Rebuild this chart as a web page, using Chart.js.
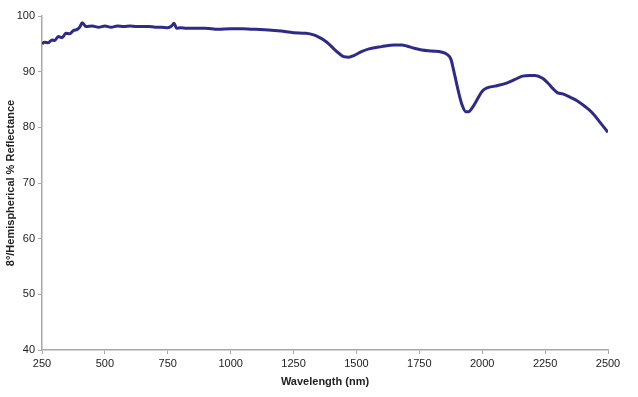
<!DOCTYPE html>
<html>
<head>
<meta charset="utf-8">
<script src="https://cdn.jsdelivr.net/npm/chart.js@4"></script>
<style>
  html, body { margin: 0; padding: 0; background: #fff; }
  #wrap { width: 638px; height: 397px; }
</style>
</head>
<body>
<div id="wrap"><canvas id="spectrum"></canvas></div>
<script>
// wavelength (nm) and measured reflectance (%)
const wavelengths = [250, 260, 275, 290, 300, 315, 330, 345, 360, 375, 390, 400, 410, 425, 450, 475, 500, 525, 550, 575, 600, 625, 650, 675, 700, 725, 750, 765, 775, 785, 800, 825, 850, 900, 950, 1000, 1050, 1100, 1150, 1200, 1250, 1300, 1330, 1350, 1370, 1390, 1410, 1430, 1450, 1470, 1490, 1520, 1550, 1600, 1650, 1680, 1700, 1730, 1760, 1800, 1840, 1860, 1875, 1890, 1905, 1920, 1935, 1945, 1960, 1980, 2000, 2020, 2050, 2100, 2130, 2160, 2190, 2210, 2240, 2260, 2280, 2300, 2320, 2350, 2380, 2410, 2440, 2470, 2500];
const reflectance = [95.0, 95.3, 95.2, 95.7, 95.6, 96.3, 96.1, 96.9, 96.8, 97.4, 97.6, 98.0, 98.8, 98.1, 98.2, 98.0, 98.2, 98.0, 98.2, 98.1, 98.2, 98.1, 98.1, 98.1, 98.0, 98.0, 97.9, 98.2, 98.7, 97.8, 97.9, 97.8, 97.8, 97.8, 97.6, 97.7, 97.7, 97.6, 97.5, 97.3, 97.0, 96.9, 96.6, 96.2, 95.7, 95.0, 94.1, 93.3, 92.7, 92.6, 92.9, 93.6, 94.1, 94.5, 94.8, 94.8, 94.6, 94.2, 93.9, 93.7, 93.5, 93.1, 92.3, 89.5, 86.5, 84.0, 82.8, 82.8, 83.5, 85.0, 86.5, 87.1, 87.4, 88.0, 88.6, 89.2, 89.3, 89.3, 88.8, 88.0, 87.0, 86.2, 86.0, 85.4, 84.7, 83.7, 82.5, 80.8, 79.1];

const points = wavelengths.map((w, i) => ({ x: w, y: reflectance[i] }));

const axisGrey = '#a8a8a8';
const textCol = '#222';
const fontFam = '"Liberation Sans", Arial, sans-serif';

const ctx = document.getElementById('spectrum').getContext('2d');
new Chart(ctx, {
    type: 'line',
    data: {
        datasets: [{
            data: points,
            borderColor: '#2e2b88',
            borderWidth: 3,
            pointRadius: 0,
            cubicInterpolationMode: 'monotone',
            fill: false
        }]
    },
    options: {
        responsive: true,
        maintainAspectRatio: false,
        animation: false,
        layout: { padding: { top: 16, right: 30, left: 0, bottom: 0 } },
        plugins: {
            legend: { display: false },
            tooltip: { enabled: false }
        },
        scales: {
            x: {
                type: 'linear',
                min: 250,
                max: 2500,
                ticks: {
                    stepSize: 250, color: textCol, font: { family: fontFam, size: 11 }, padding: 3, maxRotation: 0,
                    callback: function(v) { return String(v); }
                },
                grid: { drawOnChartArea: false, color: axisGrey, tickLength: 4 },
                border: { color: axisGrey, width: 1.5 },
                title: { display: true, text: 'Wavelength (nm)', color: textCol, font: { family: fontFam, size: 11, weight: 'bold' }, padding: { top: 2, bottom: 8 } },
                afterFit: function(scale) { scale.height = 47; }
            },
            y: {
                min: 40,
                max: 100,
                ticks: { stepSize: 10, color: textCol, font: { family: fontFam, size: 11 }, padding: 3 },
                grid: { drawOnChartArea: false, color: axisGrey, tickLength: 4 },
                border: { color: axisGrey, width: 1.5 },
                title: { display: true, text: '8°/Hemispherical % Reflectance', color: textCol, font: { family: fontFam, size: 11, weight: 'bold' }, padding: { bottom: 0 } },
                afterFit: function(scale) { scale.width = 42; }
            }
        }
    }
});
</script>
</body>
</html>
